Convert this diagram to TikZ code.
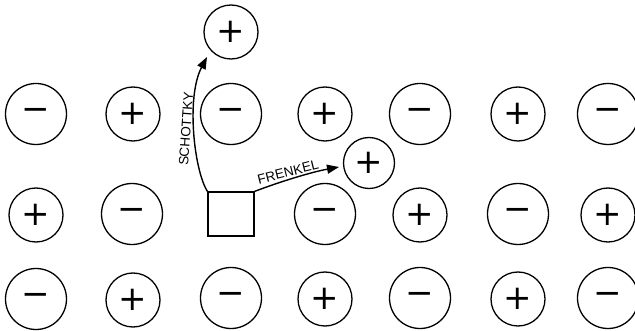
\documentclass[tikz,border=0pt]{standalone}
\usepackage{fontspec}
\setmainfont{Liberation Sans}
\newfontfamily\signfont{DejaVu Sans}
\usetikzlibrary{arrows.meta}
\begin{document}
\begin{tikzpicture}[x=1pt,y=-1pt,
  ion/.style={circle, draw, line width=1.3pt, inner sep=0pt,
    font=\signfont\fontsize{34}{34}\selectfont},
  cation/.style={ion, minimum size=54pt},
  anion/.style={ion, minimum size=61pt},
  vacancy/.style={draw, line width=1.2pt, minimum width=46pt, minimum height=44pt, inner sep=0pt},
  jump/.style={line width=1.4pt, -{Triangle[length=12pt,width=9pt]}},
  lbl/.style={font=\fontsize{13.5}{13.5}\selectfont, inner sep=0pt}]
\useasboundingbox (0,0) rectangle (635,331);
% row 1
\node[anion] (a1) at (36,114) {−};
\node[cation] (a2) at (133,114) {+};
\node[anion] (a3) at (231,114) {−};
\node[cation] (a4) at (325,114) {+};
\node[anion] (a5) at (420,114) {−};
\node[cation] (a6) at (518,114) {+};
\node[anion] (a7) at (608,114) {−};
% row 2
\node[cation] (b1) at (36,215) {+};
\node[anion] (b2) at (132,214) {−};
\node[vacancy] (sq) at (231,214) {};
\node[anion] (b4) at (325,214) {−};
\node[cation] (b5) at (420,215) {+};
\node[anion] (b6) at (518,214) {−};
\node[cation] (b7) at (608,215) {+};
% row 3
\node[anion] (c1) at (36,299) {−};
\node[cation] (c2) at (133,300) {+};
\node[anion] (c3) at (231,298) {−};
\node[cation] (c4) at (325,299) {+};
\node[anion] (c5) at (420,298) {−};
\node[cation] (c6) at (518,299) {+};
\node[anion] (c7) at (608,298) {−};
% displaced ions
\node[cation] (top) at (231,32) {+};
\node[cation, minimum size=51pt] (fr) at (369,163) {+};
% arrows
\coordinate (send) at (207,57);
\coordinate (fend) at (339,167);
\draw[jump] (sq.north west) .. controls (194,170) and (186,97) .. (send);
\draw[jump] (sq.north east) .. controls (282,181) and (312,172) .. (fend);
\node[lbl, rotate=86] (schottky) at (186,129) {SCHOTTKY};
\node[lbl, rotate=14] (frenkel) at (288,172) {FRENKEL};
\end{tikzpicture}
\end{document}
